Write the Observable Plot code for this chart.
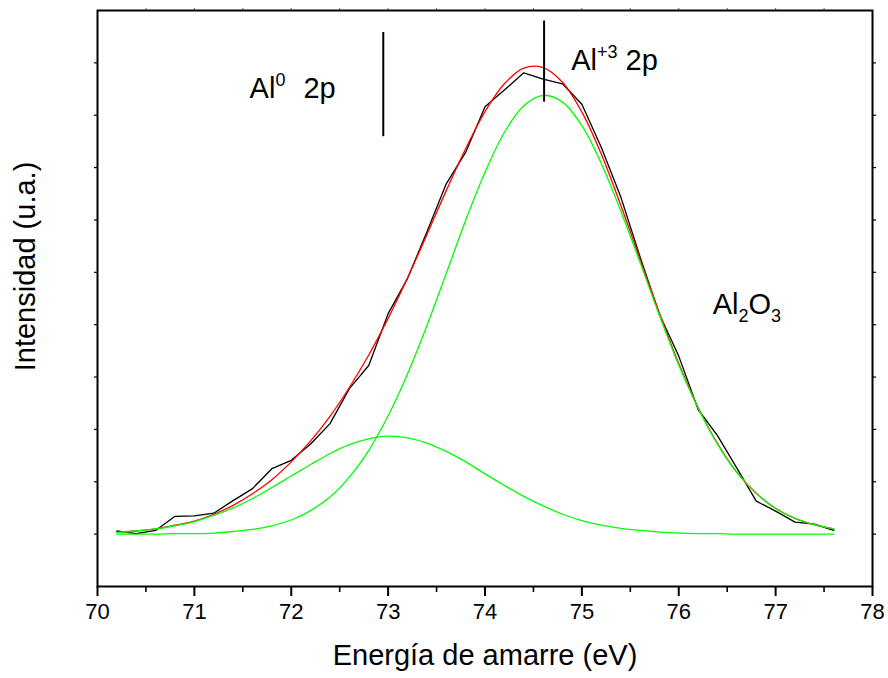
<!DOCTYPE html>
<html>
<head>
<meta charset="utf-8">
<script src="https://cdn.jsdelivr.net/npm/d3@7"></script>
<script src="https://cdn.jsdelivr.net/npm/@observablehq/plot@0.6"></script>
<style>
html, body { margin: 0; padding: 0; background: #fff; }
#chart svg { display: block; }
</style>
</head>
<body>
<div id="chart"></div>
<script>
// ---- data ----
const energy = [70.2,70.4,70.6,70.8,71.0,71.2,71.4,71.6,71.8,72.0,72.2,72.4,72.6,72.8,73.0,73.2,73.4,73.6,73.8,74.0,74.2,74.4,74.6,74.8,75.0,75.2,75.4,75.6,75.8,76.0,76.2,76.4,76.6,76.8,77.0,77.2,77.4,77.6];
const measured = [1.06,1.01,1.07,1.34,1.35,1.40,1.64,1.87,2.25,2.41,2.72,3.11,3.78,4.22,5.21,5.88,6.77,7.69,8.29,9.16,9.48,9.81,9.69,9.60,9.21,8.39,7.45,6.30,5.20,4.40,3.38,2.88,2.26,1.63,1.44,1.23,1.19,1.07];
const fitTotal = [1.04,1.06,1.10,1.17,1.25,1.38,1.55,1.77,2.04,2.38,2.78,3.25,3.80,4.42,5.12,5.89,6.72,7.56,8.36,9.07,9.60,9.90,9.91,9.63,9.06,8.26,7.29,6.25,5.22,4.26,3.42,2.73,2.18,1.78,1.49,1.30,1.18,1.10];
const peakAl2O3 = [1.00,1.00,1.00,1.01,1.01,1.02,1.05,1.09,1.16,1.27,1.45,1.71,2.09,2.60,3.26,4.06,4.98,5.98,6.99,7.91,8.67,9.18,9.38,9.25,8.80,8.08,7.18,6.19,5.18,4.23,3.41,2.72,2.18,1.78,1.49,1.30,1.18,1.10];
const peakAl0 = [1.03,1.06,1.10,1.16,1.24,1.36,1.50,1.68,1.89,2.11,2.33,2.54,2.71,2.82,2.87,2.84,2.74,2.58,2.38,2.15,1.93,1.72,1.54,1.38,1.26,1.17,1.11,1.07,1.04,1.02,1.01,1.01,1.00,1.00,1.00,1.00,1.00,1.00];

const xTicks = [70,71,72,73,74,75,76,77,78];
const xMinorTicks = [70.5,71.5,72.5,73.5,74.5,75.5,76.5,77.5];
const xTopTicks = [70.5,71,71.5,72,72.5,73,73.5,74,74.5,75,75.5,76,76.5,77,77.5];
const yTicks = [1,2,3,4,5,6,7,8,9,10];

const markerEnergy = [72.95, 74.61];
const markerLow = [8.59, 9.25];
const markerHigh = [10.58, 10.80];

const labelText = ["Al0 2p", "Al+3 2p", "Al2O3"];
const labelX = [71.57, 74.89, 76.35];
const labelY = [9.50, 10.05, 5.38];

const xTitle = "Energía de amarre (eV)";
const yTitle = "Intensidad (u.a.)";

// ---- tables built from the arrays ----
const rows = energy.map((e, i) => ({e, measured: measured[i], fit: fitTotal[i], g1: peakAl2O3[i], g2: peakAl0[i]}));
const markers = markerEnergy.map((e, i) => ({e, y1: markerLow[i], y2: markerHigh[i]}));
const labels = labelText.map((t, i) => ({t, x: labelX[i], y: labelY[i]}));

const FONT = "'Liberation Sans', Arial, Helvetica, sans-serif";
const GREEN = "#00ff00";

const plot = Plot.plot({
  width: 888,
  height: 678,
  marginLeft: 97,
  marginRight: 16,
  marginTop: 10,
  marginBottom: 92,
  style: {fontFamily: FONT, background: "#fff", color: "#000", overflow: "visible"},
  x: {domain: [70, 78]},
  y: {domain: [0, 11]},
  marks: [
    Plot.axisX(xTicks, {anchor: "bottom", tickSize: 10, tickPadding: 7, strokeWidth: 2, fontSize: 22, tickFormat: d => String(d), label: null}),
    Plot.axisX(xMinorTicks, {anchor: "bottom", tickSize: 6, strokeWidth: 1.6, tickFormat: () => "", label: null}),
    Plot.axisX(xTopTicks, {anchor: "top", tickSize: 3, strokeWidth: 1, stroke: "#666", tickFormat: () => "", label: null}),
    Plot.axisY(yTicks, {anchor: "left", tickSize: 3, strokeWidth: 1.2, tickFormat: () => "", label: null}),
    Plot.axisY(yTicks, {anchor: "right", tickSize: 3, strokeWidth: 1.2, tickFormat: () => "", label: null}),
    Plot.frame({stroke: "#000", strokeWidth: 2}),
    Plot.line(rows, {x: "e", y: "measured", stroke: "#000", strokeWidth: 1.3}),
    Plot.line(rows, {x: "e", y: "fit", stroke: "#ff0000", strokeWidth: 1.3, curve: "catmull-rom"}),
    Plot.line(rows, {x: "e", y: "g1", stroke: GREEN, strokeWidth: 1.3, curve: "catmull-rom"}),
    Plot.line(rows, {x: "e", y: "g2", stroke: GREEN, strokeWidth: 1.3, curve: "catmull-rom"}),
    Plot.ruleX(markers, {x: "e", y1: "y1", y2: "y2", stroke: "#000", strokeWidth: 2}),
    Plot.text(labels, {x: "x", y: "y", text: "t", textAnchor: "start", lineAnchor: "middle", fontSize: 29, fill: "#000"}),
    Plot.text([xTitle], {frameAnchor: "bottom", textAnchor: "middle", lineAnchor: "middle", dy: 69, fontSize: 29, fill: "#000"}),
    Plot.text([yTitle], {frameAnchor: "left", textAnchor: "middle", lineAnchor: "middle", dx: -72, dy: -32, rotate: -90, fontSize: 29, fill: "#000"})
  ]
});

// superscripts / subscripts for the chemical labels (kept as real text)
const richParts = {
  "Al0 2p": [["Al", 0], ["0", -1], [" 2p", 0, 10]],
  "Al+3 2p": [["Al", 0], ["+3", -1], [" 2p", 0, 0]],
  "Al2O3": [["Al", 0], ["2", 1], ["O", 0], ["3", 1]]
};
d3.select(plot).selectAll("text").each(function() {
  const spec = richParts[this.textContent];
  if (!spec) return;
  const sel = d3.select(this);
  sel.selectAll("*").remove();
  sel.text(null);
  let shift = 0;
  for (const [s, kind, gap] of spec) {
    const target = kind < 0 ? -12 : kind > 0 ? 8 : 0;
    const ts = sel.append("tspan").text(s).attr("dy", target - shift);
    if (gap) ts.attr("dx", gap);
    if (kind !== 0) ts.attr("font-size", 18);
    shift = target;
  }
});

document.getElementById("chart").appendChild(plot);
</script>
</body>
</html>
